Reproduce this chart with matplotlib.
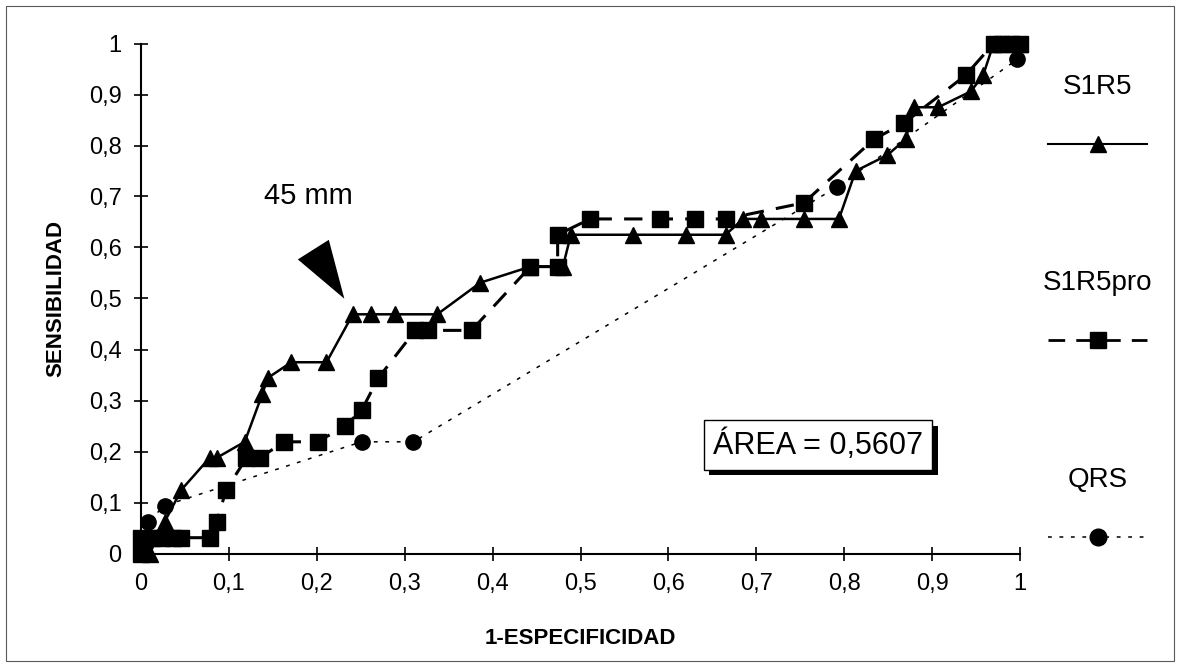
import matplotlib
matplotlib.use("Agg")
import matplotlib.pyplot as plt
from matplotlib.lines import Line2D
from matplotlib.patches import Rectangle
from matplotlib.ticker import FuncFormatter, MultipleLocator
import matplotlib.patheffects as pe

plt.rcParams['font.family'] = ['Liberation Sans', 'DejaVu Sans']

# S1R5 (triangles, solid)
s1r5_x = [0.01, 0.027, 0.046, 0.078, 0.086, 0.118, 0.138, 0.144, 0.171, 0.211,
          0.241, 0.262, 0.289, 0.337, 0.386, 0.443, 0.48, 0.489, 0.56, 0.62,
          0.665, 0.685, 0.705, 0.754, 0.794, 0.813, 0.849, 0.87, 0.879, 0.907,
          0.944, 0.958, 0.97, 1.0]
s1r5_y = [0.0, 0.0625, 0.125, 0.1875, 0.1875, 0.219, 0.3125, 0.344, 0.375, 0.375,
          0.469, 0.469, 0.469, 0.469, 0.531, 0.5625, 0.5625, 0.625, 0.625, 0.625,
          0.625, 0.656, 0.656, 0.656, 0.656, 0.75, 0.781, 0.8125, 0.875, 0.875,
          0.906, 0.9375, 1.0, 1.0]

# S1R5pro (squares, dashed)
pro_x = [0.0, 0.0, 0.012, 0.024, 0.036, 0.046, 0.078, 0.086, 0.097, 0.12,
         0.135, 0.163, 0.201, 0.232, 0.251, 0.27, 0.312, 0.327, 0.376, 0.443,
         0.474, 0.474, 0.511, 0.59, 0.63, 0.665, 0.754, 0.834, 0.868, 0.938,
         0.97, 0.98, 0.99, 1.0]
pro_y = [0.0, 0.031, 0.031, 0.031, 0.031, 0.031, 0.031, 0.0625, 0.125, 0.1875,
         0.1875, 0.219, 0.219, 0.25, 0.281, 0.344, 0.4375, 0.4375, 0.4375, 0.5625,
         0.5625, 0.625, 0.656, 0.656, 0.656, 0.656, 0.6875, 0.8125, 0.844, 0.9375,
         1.0, 1.0, 1.0, 1.0]

# QRS (circles, dotted)
qrs_x = [0.0, 0.008, 0.027, 0.251, 0.31, 0.792, 0.997, 1.0]
qrs_y = [0.0, 0.0625, 0.094, 0.219, 0.219, 0.719, 0.969, 1.0]

labels = ["S1R5", "S1R5pro", "QRS"]

fig = plt.figure(figsize=(11.8, 6.67), dpi=100)
ax = fig.add_axes([141/1180, 113.5/667, 879/1180, 510/667])

ax.plot(s1r5_x, s1r5_y, color='black', lw=1.8, marker='^', ms=12, clip_on=False, zorder=3)
ax.plot(pro_x, pro_y, color='black', lw=2.2, ls=(0, (6, 4)), marker='s', ms=12,
        clip_on=False, zorder=4)
ax.plot(qrs_x, qrs_y, color='black', lw=1.1, ls=(0, (2.5, 5)), marker='o', ms=11,
        clip_on=False, zorder=5)

ax.set_xlim(0, 1)
ax.set_ylim(0, 1)
ax.xaxis.set_major_locator(MultipleLocator(0.1))
ax.yaxis.set_major_locator(MultipleLocator(0.1))
fmt = FuncFormatter(lambda v, p: '0' if abs(v) < 1e-9 else ('1' if abs(v - 1) < 1e-9
                                                         else ('%.1f' % v).replace('.', ',')))
ax.xaxis.set_major_formatter(fmt)
ax.yaxis.set_major_formatter(fmt)
ax.tick_params(direction='inout', length=10, width=1.2, labelsize=17, pad=9)
for s in ['top', 'right']:
    ax.spines[s].set_visible(False)
for s in ['left', 'bottom']:
    ax.spines[s].set_linewidth(1.5)

ax.set_xlabel('1-ESPECIFICIDAD', fontsize=16, fontweight='bold', labelpad=24)
ax.set_ylabel('SENSIBILIDAD', fontsize=16, fontweight='bold', labelpad=16)

# annotation
ax.text(0.19, 0.70, '45 mm', fontsize=21, ha='center', va='center')
ax.annotate('', xy=(0.233, 0.495), xytext=(0.2, 0.585),
            arrowprops=dict(arrowstyle='-|>,head_length=1.9,head_width=0.6',
                            mutation_scale=22, fc='black', ec='black', lw=0))

# area box with shadow
t = ax.text(0.77, 0.213, 'ÁREA = 0,5607', fontsize=22, ha='center', va='center', zorder=7,
            bbox=dict(boxstyle='square,pad=0.3', fc='white', ec='black', lw=1))
t.get_bbox_patch().set_path_effects([
    pe.SimplePatchShadow(offset=(4, -4), shadow_rgbFace='black', alpha=1), pe.Normal()])

# legend drawn at the right
leg_styles = [dict(ls='-', marker='^', lw=1.5),
              dict(ls=(0, (6, 4)), marker='s', lw=2),
              dict(ls=(0, (2.5, 5)), marker='o', lw=1.1)]
line_y = [1 - 144/667, 1 - 340/667, 1 - 537/667]
for lab, st, ly in zip(labels, leg_styles, line_y):
    fig.text(1098/1180, ly + 57/667, lab, fontsize=20, ha='center', va='center')
    fig.add_artist(Line2D([1048/1180, 1147/1180], [ly, ly], color='black',
                          transform=fig.transFigure, ls=st['ls'], lw=st['lw']))
    fig.add_artist(Line2D([1098/1180], [ly], color='black', ms=12, marker=st['marker'],
                          ls='none', transform=fig.transFigure))

fig.patches.append(Rectangle((6/1180, 6/667), 1168/1180, 655/667, transform=fig.transFigure,
                             fill=False, lw=0.8, ec='0.35'))

fig.savefig('out.png', dpi=100)
